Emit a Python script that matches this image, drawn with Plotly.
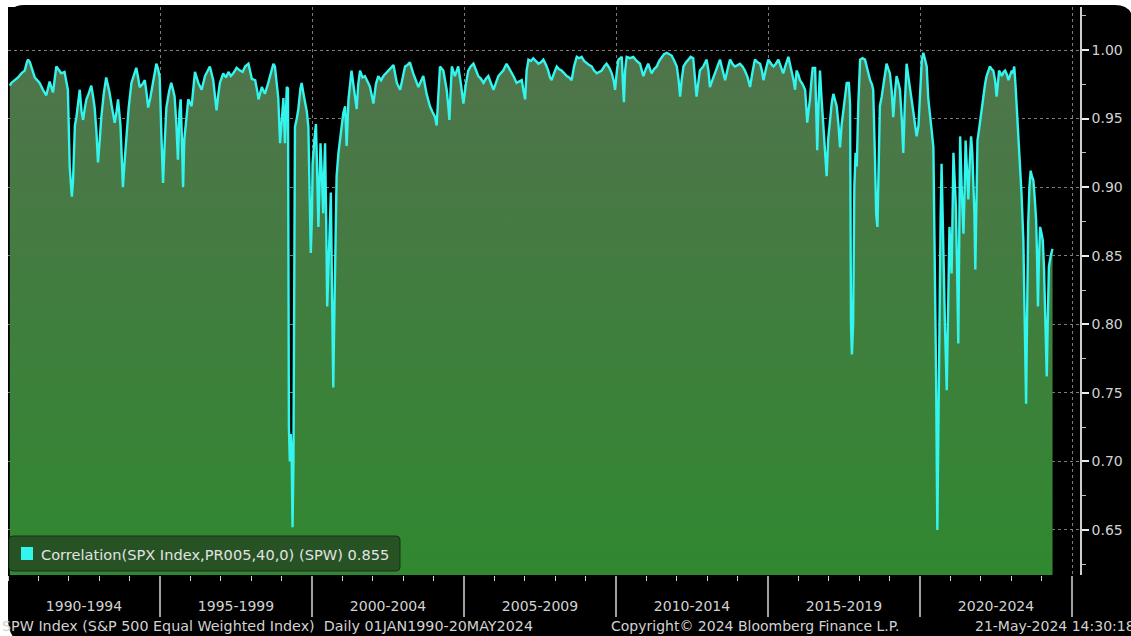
import plotly.graph_objects as go

# ---------------- data ----------------
years = [
    1990.06, 1990.11, 1990.22, 1990.33, 1990.44, 1990.55, 1990.62, 1990.66, 1990.72, 1990.77,
    1990.88, 1990.96, 1991.04, 1991.15, 1991.26, 1991.37, 1991.48, 1991.59, 1991.68, 1991.75,
    1991.86, 1991.97, 1992.03, 1992.10, 1992.14, 1992.20, 1992.25, 1992.30, 1992.36, 1992.42,
    1992.47, 1992.53, 1992.58, 1992.65, 1992.74, 1992.80, 1992.85, 1992.91, 1992.96, 1993.02,
    1993.07, 1993.15, 1993.23, 1993.28, 1993.34, 1993.42, 1993.51, 1993.57, 1993.62, 1993.70,
    1993.78, 1993.84, 1993.89, 1993.97, 1994.06, 1994.15, 1994.22, 1994.28, 1994.33, 1994.42,
    1994.50, 1994.56, 1994.61, 1994.68, 1994.77, 1994.84, 1994.88, 1994.94, 1994.99, 1995.05,
    1995.10, 1995.15, 1995.21, 1995.30, 1995.37, 1995.43, 1995.48, 1995.54, 1995.59, 1995.64,
    1995.68, 1995.72, 1995.76, 1995.80, 1995.87, 1995.93, 1996.04, 1996.10, 1996.15, 1996.26,
    1996.37, 1996.48, 1996.56, 1996.64, 1996.75, 1996.82, 1996.86, 1996.92, 1996.97, 1997.08,
    1997.17, 1997.25, 1997.33, 1997.41, 1997.52, 1997.63, 1997.72, 1997.80, 1997.91, 1998.02,
    1998.13, 1998.20, 1998.24, 1998.35, 1998.45, 1998.56, 1998.65, 1998.73, 1998.78, 1998.84,
    1998.89, 1998.95, 1999.00, 1999.06, 1999.11, 1999.17, 1999.21, 1999.24, 1999.27, 1999.30,
    1999.33, 1999.36, 1999.39, 1999.42, 1999.44, 1999.50, 1999.55, 1999.62, 1999.66, 1999.72,
    1999.77, 1999.83, 1999.88, 1999.93, 1999.96, 2000.00, 2000.02, 2000.08, 2000.13, 2000.17,
    2000.21, 2000.25, 2000.28, 2000.33, 2000.37, 2000.40, 2000.43, 2000.47, 2000.50, 2000.54,
    2000.57, 2000.62, 2000.66, 2000.70, 2000.73, 2000.76, 2000.81, 2000.87, 2000.92, 2000.98,
    2001.03, 2001.09, 2001.14, 2001.20, 2001.30, 2001.36, 2001.41, 2001.47, 2001.52, 2001.58,
    2001.66, 2001.74, 2001.85, 2001.91, 2002.02, 2002.10, 2002.18, 2002.27, 2002.35, 2002.43,
    2002.51, 2002.60, 2002.68, 2002.74, 2002.79, 2002.90, 2002.98, 2003.06, 2003.14, 2003.22,
    2003.33, 2003.42, 2003.50, 2003.58, 2003.66, 2003.77, 2003.88, 2003.96, 2004.05, 2004.10,
    2004.15, 2004.21, 2004.32, 2004.43, 2004.48, 2004.52, 2004.56, 2004.60, 2004.70, 2004.81,
    2004.90, 2004.98, 2005.06, 2005.14, 2005.22, 2005.31, 2005.40, 2005.47, 2005.56, 2005.64,
    2005.72, 2005.80, 2005.90, 2005.97, 2006.05, 2006.13, 2006.21, 2006.29, 2006.40, 2006.48,
    2006.57, 2006.65, 2006.73, 2006.82, 2006.90, 2006.96, 2007.01, 2007.06, 2007.12, 2007.20,
    2007.28, 2007.36, 2007.45, 2007.53, 2007.61, 2007.70, 2007.77, 2007.83, 2007.88, 2007.96,
    2008.05, 2008.13, 2008.21, 2008.30, 2008.38, 2008.46, 2008.54, 2008.62, 2008.71, 2008.79,
    2008.87, 2008.95, 2009.04, 2009.12, 2009.20, 2009.28, 2009.37, 2009.45, 2009.53, 2009.61,
    2009.69, 2009.78, 2009.86, 2009.92, 2009.97, 2010.03, 2010.08, 2010.14, 2010.19, 2010.23,
    2010.26, 2010.30, 2010.35, 2010.46, 2010.57, 2010.68, 2010.79, 2010.85, 2010.90, 2010.98,
    2011.06, 2011.12, 2011.17, 2011.25, 2011.34, 2011.42, 2011.50, 2011.58, 2011.67, 2011.75,
    2011.83, 2011.92, 2012.00, 2012.06, 2012.11, 2012.16, 2012.22, 2012.30, 2012.38, 2012.46,
    2012.54, 2012.60, 2012.65, 2012.70, 2012.76, 2012.87, 2012.98, 2013.04, 2013.09, 2013.17,
    2013.26, 2013.34, 2013.42, 2013.50, 2013.59, 2013.67, 2013.75, 2013.83, 2013.91, 2014.00,
    2014.08, 2014.16, 2014.24, 2014.33, 2014.41, 2014.49, 2014.57, 2014.66, 2014.74, 2014.80,
    2014.85, 2014.93, 2015.01, 2015.10, 2015.18, 2015.26, 2015.34, 2015.42, 2015.50, 2015.58,
    2015.67, 2015.72, 2015.78, 2015.84, 2015.89, 2015.94, 2016.00, 2016.05, 2016.14, 2016.22,
    2016.26, 2016.29, 2016.33, 2016.38, 2016.43, 2016.47, 2016.55, 2016.59, 2016.62, 2016.66,
    2016.71, 2016.76, 2016.82, 2016.88, 2016.93, 2016.98, 2017.04, 2017.10, 2017.15, 2017.20,
    2017.26, 2017.32, 2017.37, 2017.42, 2017.48, 2017.54, 2017.59, 2017.66, 2017.70, 2017.73,
    2017.76, 2017.80, 2017.84, 2017.88, 2017.92, 2017.97, 2018.03, 2018.11, 2018.19, 2018.28,
    2018.36, 2018.42, 2018.46, 2018.52, 2018.56, 2018.60, 2018.64, 2018.68, 2018.74, 2018.79,
    2018.85, 2018.90, 2018.96, 2019.01, 2019.07, 2019.12, 2019.18, 2019.23, 2019.30, 2019.34,
    2019.40, 2019.45, 2019.50, 2019.56, 2019.62, 2019.67, 2019.72, 2019.78, 2019.84, 2019.89,
    2019.95, 2020.00, 2020.06, 2020.11, 2020.17, 2020.22, 2020.27, 2020.33, 2020.39, 2020.44,
    2020.47, 2020.49, 2020.53, 2020.57, 2020.60, 2020.64, 2020.68, 2020.71, 2020.74, 2020.77,
    2020.82, 2020.88, 2020.92, 2020.97, 2021.01, 2021.04, 2021.07, 2021.10, 2021.14, 2021.18,
    2021.22, 2021.26, 2021.29, 2021.32, 2021.37, 2021.43, 2021.47, 2021.50, 2021.55, 2021.59,
    2021.63, 2021.68, 2021.72, 2021.75, 2021.79, 2021.82, 2021.86, 2021.89, 2021.93, 2021.97,
    2022.03, 2022.08, 2022.14, 2022.19, 2022.25, 2022.30, 2022.36, 2022.41, 2022.47, 2022.52,
    2022.56, 2022.60, 2022.65, 2022.69, 2022.75, 2022.80, 2022.86, 2022.91, 2022.97, 2023.02,
    2023.06, 2023.10, 2023.14, 2023.18, 2023.24, 2023.29, 2023.34, 2023.40, 2023.44, 2023.47,
    2023.49, 2023.52, 2023.56, 2023.60, 2023.64, 2023.68, 2023.73, 2023.78, 2023.82, 2023.85,
    2023.88, 2023.91, 2023.95, 2024.00, 2024.04, 2024.08, 2024.11, 2024.14, 2024.17, 2024.20,
    2024.24, 2024.30, 2024.36,
]

corr = [
    0.974, 0.976, 0.978, 0.980, 0.983, 0.985, 0.991, 0.993, 0.991, 0.988,
    0.980, 0.978, 0.976, 0.971, 0.967, 0.977, 0.969, 0.988, 0.985, 0.983,
    0.984, 0.971, 0.915, 0.893, 0.905, 0.945, 0.951, 0.962, 0.971, 0.955,
    0.949, 0.958, 0.964, 0.968, 0.974, 0.966, 0.958, 0.940, 0.918, 0.935,
    0.951, 0.968, 0.980, 0.975, 0.969, 0.958, 0.947, 0.955, 0.964, 0.945,
    0.900, 0.920, 0.934, 0.958, 0.976, 0.982, 0.987, 0.980, 0.973, 0.975,
    0.978, 0.968, 0.958, 0.965, 0.976, 0.985, 0.990, 0.986, 0.980, 0.935,
    0.903, 0.930, 0.958, 0.970, 0.976, 0.971, 0.966, 0.945, 0.920, 0.955,
    0.964, 0.935, 0.900, 0.935, 0.954, 0.964, 0.959, 0.972, 0.984, 0.976,
    0.971, 0.981, 0.984, 0.988, 0.978, 0.965, 0.956, 0.968, 0.976, 0.983,
    0.980, 0.984, 0.981, 0.983, 0.987, 0.985, 0.984, 0.988, 0.990, 0.979,
    0.978, 0.970, 0.964, 0.973, 0.968, 0.976, 0.983, 0.990, 0.988, 0.973,
    0.965, 0.932, 0.950, 0.965, 0.932, 0.973, 0.972, 0.725, 0.700, 0.720,
    0.705, 0.652, 0.700, 0.900, 0.944, 0.950, 0.957, 0.972, 0.976, 0.968,
    0.962, 0.955, 0.944, 0.900, 0.852, 0.880, 0.917, 0.935, 0.946, 0.910,
    0.871, 0.905, 0.932, 0.905, 0.881, 0.910, 0.932, 0.870, 0.813, 0.840,
    0.857, 0.896, 0.820, 0.754, 0.800, 0.847, 0.908, 0.925, 0.936, 0.945,
    0.954, 0.959, 0.930, 0.964, 0.985, 0.975, 0.964, 0.957, 0.975, 0.985,
    0.980, 0.981, 0.976, 0.973, 0.961, 0.975, 0.981, 0.978, 0.981, 0.983,
    0.985, 0.987, 0.989, 0.982, 0.976, 0.971, 0.980, 0.988, 0.989, 0.991,
    0.983, 0.978, 0.973, 0.977, 0.981, 0.968, 0.959, 0.955, 0.951, 0.945,
    0.970, 0.988, 0.985, 0.971, 0.960, 0.949, 0.970, 0.988, 0.981, 0.988,
    0.975, 0.961, 0.975, 0.985, 0.988, 0.990, 0.985, 0.981, 0.979, 0.976,
    0.979, 0.981, 0.975, 0.971, 0.976, 0.981, 0.983, 0.985, 0.990, 0.987,
    0.983, 0.980, 0.976, 0.977, 0.978, 0.970, 0.964, 0.985, 0.993, 0.992,
    0.994, 0.992, 0.990, 0.991, 0.993, 0.989, 0.985, 0.980, 0.978, 0.983,
    0.988, 0.986, 0.985, 0.983, 0.981, 0.980, 0.978, 0.988, 0.995, 0.994,
    0.995, 0.992, 0.990, 0.989, 0.988, 0.985, 0.983, 0.984, 0.985, 0.988,
    0.990, 0.987, 0.983, 0.978, 0.971, 0.985, 0.993, 0.994, 0.995, 0.975,
    0.962, 0.985, 0.995, 0.994, 0.995, 0.992, 0.990, 0.985, 0.981, 0.986,
    0.990, 0.986, 0.983, 0.986, 0.988, 0.992, 0.995, 0.997, 0.998, 0.997,
    0.996, 0.992, 0.988, 0.978, 0.966, 0.978, 0.988, 0.991, 0.993, 0.995,
    0.994, 0.980, 0.966, 0.975, 0.985, 0.988, 0.993, 0.985, 0.973, 0.978,
    0.983, 0.988, 0.993, 0.986, 0.978, 0.986, 0.993, 0.990, 0.988, 0.989,
    0.990, 0.988, 0.985, 0.980, 0.973, 0.984, 0.993, 0.991, 0.990, 0.985,
    0.978, 0.986, 0.993, 0.990, 0.988, 0.990, 0.993, 0.988, 0.983, 0.989,
    0.995, 0.990, 0.985, 0.978, 0.971, 0.985, 0.982, 0.978, 0.975, 0.971,
    0.958, 0.947, 0.955, 0.964, 0.978, 0.987, 0.987, 0.960, 0.927, 0.960,
    0.985, 0.965, 0.947, 0.930, 0.908, 0.935, 0.951, 0.962, 0.968, 0.964,
    0.959, 0.945, 0.929, 0.945, 0.956, 0.968, 0.976, 0.976, 0.960, 0.800,
    0.778, 0.800, 0.900, 0.925, 0.915, 0.960, 0.993, 0.994, 0.993, 0.985,
    0.978, 0.975, 0.971, 0.920, 0.880, 0.871, 0.920, 0.959, 0.966, 0.973,
    0.982, 0.990, 0.986, 0.983, 0.970, 0.951, 0.970, 0.981, 0.975, 0.971,
    0.950, 0.925, 0.960, 0.990, 0.980, 0.971, 0.965, 0.955, 0.945, 0.937,
    0.945, 0.968, 0.993, 0.998, 0.991, 0.988, 0.965, 0.954, 0.940, 0.929,
    0.880, 0.849, 0.760, 0.650, 0.720, 0.818, 0.880, 0.917, 0.880, 0.837,
    0.800, 0.752, 0.810, 0.871, 0.850, 0.837, 0.880, 0.925, 0.905, 0.886,
    0.840, 0.786, 0.860, 0.937, 0.900, 0.866, 0.900, 0.934, 0.910, 0.891,
    0.915, 0.937, 0.925, 0.910, 0.880, 0.840, 0.890, 0.934, 0.940, 0.947,
    0.958, 0.968, 0.975, 0.981, 0.985, 0.988, 0.986, 0.985, 0.978, 0.966,
    0.975, 0.985, 0.983, 0.981, 0.984, 0.985, 0.982, 0.978, 0.982, 0.985,
    0.983, 0.988, 0.975, 0.959, 0.940, 0.922, 0.895, 0.861, 0.800, 0.760,
    0.742, 0.800, 0.874, 0.900, 0.912, 0.908, 0.905, 0.890, 0.876, 0.850,
    0.813, 0.845, 0.871, 0.866, 0.861, 0.840, 0.813, 0.790, 0.762, 0.800,
    0.842, 0.850, 0.855,
]

band_starts = [1990, 1995, 2000, 2005, 2010, 2015, 2020]
band_labels = ["1990-1994", "1995-1999", "2000-2004", "2005-2009",
               "2010-2014", "2015-2019", "2020-2024"]
y_ticks = [0.65, 0.70, 0.75, 0.80, 0.85, 0.90, 0.95, 1.00]
series_name = "Correlation(SPX Index,PR005,40,0) (SPW)"
last_value = 0.855
footer_left = "SPW Index (S&P 500 Equal Weighted Index)  Daily 01JAN1990-20MAY2024"
footer_mid = "Copyright\u00a9 2024 Bloomberg Finance L.P."
footer_right = "21-May-2024 14:30:18"

# ---------------- layout constants ----------------
W, H = 1131, 636
L, R, T, B = 8, 51, 7, 61
PW, PH = W - L - R, H - T - B
PX_PER_YEAR = 30.4
X0 = 1990.0
X1 = X0 + PW / PX_PER_YEAR
PX_PER_UNIT = 1371.4
Y1 = 1.00 + (50 - T) / PX_PER_UNIT
Y0 = Y1 - PH / PX_PER_UNIT

FONT = "DejaVu Sans"
TXT = "#d2d2d2"


def fx(px):
    return (px - L) / PW


def fy(py):
    return (T + PH - py) / PH


def rounded_path(x0, y0, x1, y1, rtl, rtr, rbr, rbl):
    def P(x, y):
        return f"{fx(x):.5f},{fy(y):.5f}"
    pts = [
        "M " + P(x0 + rtl, y0),
        "L " + P(x1 - rtr, y0),
        "Q " + P(x1, y0) + " " + P(x1, y0 + rtr),
        "L " + P(x1, y1 - rbr),
        "Q " + P(x1, y1) + " " + P(x1 - rbr, y1),
        "L " + P(x0 + rbl, y1),
        "Q " + P(x0, y1) + " " + P(x0, y1 - rbl),
        "L " + P(x0, y0 + rtl),
        "Q " + P(x0, y0) + " " + P(x0 + rtl, y0),
        "Z",
    ]
    return " ".join(pts)


boundaries = band_starts[1:] + [band_starts[-1] + 5]
centers = [s + 2.5 for s in band_starts]

fig = go.Figure()
fig.add_trace(go.Scatter(
    x=years, y=corr, mode="lines",
    line=dict(color="#34f4ee", width=2.4),
    fill="tozeroy",
    fillgradient=dict(type="vertical",
                      colorscale=[[0, "rgb(48,136,48)"], [1, "rgb(80,116,76)"]],
                      start=Y0, stop=1.0),
    showlegend=False, hoverinfo="skip",
))
fig.add_trace(go.Scatter(x=[X0, X1], y=[None, None], xaxis="x2",
                         showlegend=False, hoverinfo="skip"))

shapes = [
    dict(type="path", xref="paper", yref="paper", layer="below",
         path=rounded_path(8, 5, 1133, 646, 16, 18, 18, 28),
         fillcolor="black", line=dict(width=0)),
    # legend box
    dict(type="path", xref="paper", yref="paper", layer="above",
         path=rounded_path(9, 536, 400, 571, 4, 4, 4, 4),
         fillcolor="rgb(38,82,36)", line=dict(color="rgb(24,50,24)", width=1)),
    dict(type="rect", xref="paper", yref="paper", layer="above",
         x0=fx(21), x1=fx(33), y0=fy(560), y1=fy(547),
         fillcolor="#34f4ee", line=dict(width=0)),
]

annotations = [
    dict(xref="paper", yref="paper", x=fx(39), y=fy(554), xanchor="left", yanchor="middle",
         text=f"{series_name} {last_value:.3f}", showarrow=False,
         font=dict(family=FONT, size=14.6, color="#e2e2e2")),
    dict(xref="paper", yref="paper", x=fx(0), y=fy(626), xanchor="left", yanchor="middle",
         text=footer_left, showarrow=False, font=dict(family=FONT, size=14.3, color=TXT)),
    dict(xref="paper", yref="paper", x=fx(609), y=fy(626), xanchor="left", yanchor="middle",
         text=footer_mid, showarrow=False, font=dict(family=FONT, size=14.0, color=TXT)),
    dict(xref="paper", yref="paper", x=fx(973), y=fy(626), xanchor="left", yanchor="middle",
         text=footer_right, showarrow=False, font=dict(family=FONT, size=14.0, color=TXT)),
]

fig.update_layout(
    width=W, height=H,
    margin=dict(l=L, r=R, t=T, b=B, pad=0),
    paper_bgcolor="white", plot_bgcolor="black",
    shapes=shapes, annotations=annotations,
    xaxis=dict(range=[X0, X1], tickmode="array", tickvals=boundaries,
               ticks="outside", ticklen=41, tickwidth=1.5, tickcolor="#a0a0a0",
               showticklabels=False, showgrid=True, gridcolor="#7c7c7c",
               griddash="dot", gridwidth=1, zeroline=False, showline=False,
               minor=dict(tickmode="linear", tick0=1990, dtick=1, ticks="outside",
                          ticklen=5, tickwidth=1, tickcolor="#cfcfcf", showgrid=False)),
    xaxis2=dict(range=[X0, X1], overlaying="x", anchor="y", side="bottom",
                tickmode="array", tickvals=centers, ticktext=band_labels,
                ticks="", showgrid=False, zeroline=False, showline=False,
                ticklabelstandoff=21,
                tickfont=dict(family=FONT, size=14, color=TXT)),
    yaxis=dict(range=[Y0, Y1], side="right", tickmode="array", tickvals=y_ticks,
               ticktext=[f"{v:.2f}" for v in y_ticks],
               ticks="outside", ticklen=7, tickwidth=2, tickcolor="#ececec",
               showline=True, linecolor="#cfcfcf", linewidth=1.5,
               showgrid=True, gridcolor="#7c7c7c", griddash="dot", gridwidth=1,
               zeroline=False, tickfont=dict(family=FONT, size=14, color=TXT),
               minor=dict(tickmode="linear", tick0=0.625, dtick=0.05, ticks="outside",
                          ticklen=4, tickwidth=1, tickcolor="#bdbdbd", showgrid=False)),
)

fig.write_html("out.html",
               config={"displayModeBar": False},
               post_script="document.body.style.margin='0';document.body.style.overflow='hidden';")
